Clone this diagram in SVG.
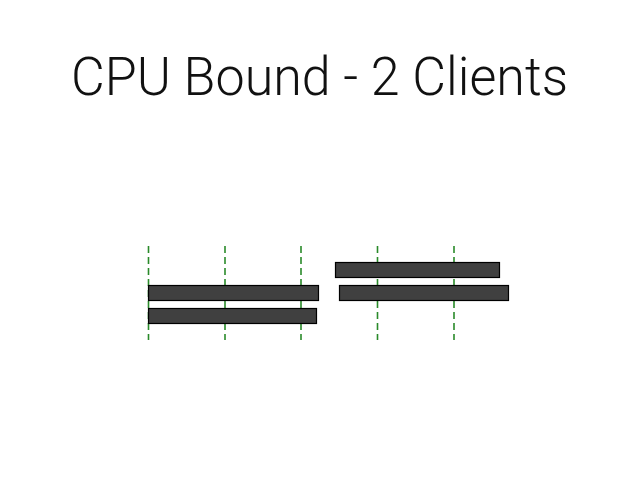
<svg xmlns="http://www.w3.org/2000/svg" width="638" height="479" viewBox="0 0 638 479">
<style>
.title{font-family:Roboto,"Liberation Sans",Arial,sans-serif;font-weight:300;font-size:54px;fill:#111;}
.grid line{stroke:#2a8a2a;stroke-width:1.6;stroke-dasharray:7,4;}
.bar{fill:#404040;stroke:#000;stroke-width:1.2;}
</style>
<rect width="638" height="479" fill="#fff"/>
<text class="title" x="71" y="95" textLength="497" lengthAdjust="spacingAndGlyphs">CPU Bound - 2 Clients</text>
<g id="connectors" class="grid">
<line x1="148.5" y1="246" x2="148.5" y2="340"/>
<line x1="225" y1="246" x2="225" y2="340"/>
<line x1="301" y1="246" x2="301" y2="340"/>
<line x1="377.5" y1="246" x2="377.5" y2="340"/>
<line x1="454" y1="246" x2="454" y2="340"/>
</g>
<g id="bar1"><rect class="bar" x="148.5" y="285.5" width="170" height="15"/></g>
<g id="bar2"><rect class="bar" x="148.5" y="308.5" width="168" height="15"/></g>
<g id="bar3"><rect class="bar" x="335.5" y="262.5" width="164" height="15"/></g>
<g id="bar4"><rect class="bar" x="339.5" y="285.5" width="169" height="15"/></g>
</svg>
